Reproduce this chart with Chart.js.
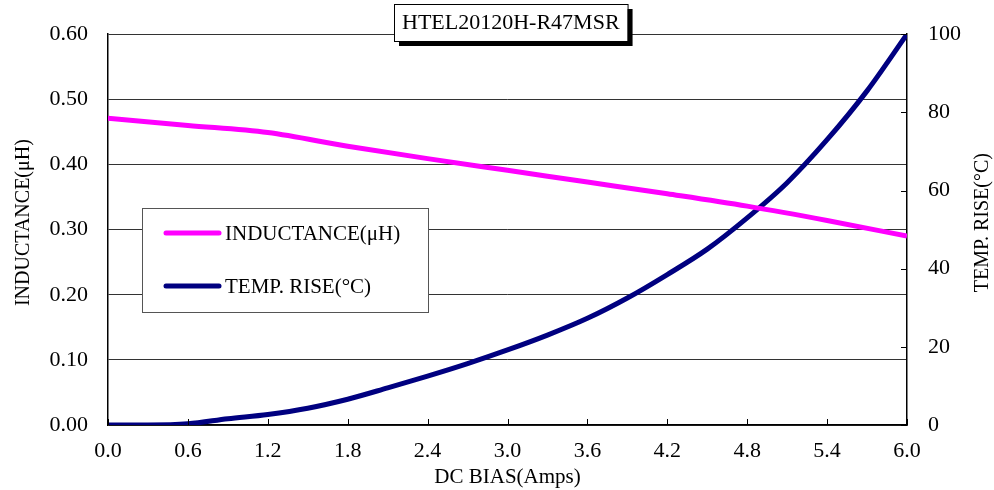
<!DOCTYPE html>
<html>
<head>
<meta charset="utf-8">
<script src="https://cdn.jsdelivr.net/npm/chart.js@4/dist/chart.umd.min.js"></script>
<style>
  html, body { margin: 0; padding: 0; background: #fff; }
  #wrap { width: 994px; height: 490px; }
</style>
</head>
<body>
<div id="wrap"><canvas id="lineChart"></canvas></div>
<script>
// data
const chartTitle = 'HTEL20120H-R47MSR';
const biasAmps = [0, 0.6, 1.2, 1.8, 2.4, 3.0, 3.6, 4.2, 4.8, 5.4, 6.0];
const inductance = [0.471, 0.460, 0.449, 0.428, 0.409, 0.391, 0.373, 0.355, 0.336, 0.314, 0.290];
const tempAmps = [0, 0.3, 0.6, 0.9, 1.2, 1.5, 1.8, 2.1, 2.4, 2.7, 3.0, 3.3, 3.6, 3.9, 4.2, 4.5, 4.8, 5.1, 5.4, 5.7, 6.0];
const tempRise = [0, 0, 0.3, 1.6, 2.7, 4.3, 6.6, 9.5, 12.5, 15.7, 19.2, 23.0, 27.3, 32.5, 38.5, 45.0, 53.0, 62.0, 73.0, 85.5, 100];
const labels = ['INDUCTANCE(\u03bcH)', 'TEMP. RISE(\u00b0C)'];
const axisTitles = ['DC BIAS(Amps)', 'INDUCTANCE(\u03bcH)', 'TEMP. RISE(\u00b0C)'];
const colors = ['#ff00ff', '#000080'];

const FONT = '"Liberation Serif", "Times New Roman", serif';

function pts(xs, ys) {
    return xs.map((x, i) => ({x: x, y: ys[i]}));
}

// title box + legend box + inward tick marks + side titles
const decorations = {
    id: 'decorations',
    afterDatasetsDraw(chart) {
        const ctx = chart.ctx;
        const area = chart.chartArea;
        const xs = chart.scales.x;
        const y1 = chart.scales.y1;
        ctx.save();
        ctx.strokeStyle = '#000';
        ctx.lineWidth = 1;
        // x ticks pointing up
        xs.ticks.forEach(t => {
            const px = Math.round(xs.getPixelForValue(t.value)) + 0.5;
            ctx.beginPath();
            ctx.moveTo(px, area.bottom);
            ctx.lineTo(px, area.bottom - 6);
            ctx.stroke();
        });
        // right axis ticks pointing left
        y1.ticks.forEach(t => {
            const py = Math.round(y1.getPixelForValue(t.value)) + 0.5;
            ctx.beginPath();
            ctx.moveTo(area.right, py);
            ctx.lineTo(area.right - 6, py);
            ctx.stroke();
        });

        // side axis titles, both reading bottom to top
        ctx.fillStyle = '#000';
        ctx.font = '20px ' + FONT;
        ctx.textAlign = 'center';
        ctx.textBaseline = 'middle';
        const midY = (area.top + area.bottom) / 2 - 7;
        [[24, midY, axisTitles[1]], [983, midY, axisTitles[2]]].forEach(a => {
            ctx.save();
            ctx.translate(a[0], a[1]);
            ctx.rotate(-Math.PI / 2);
            ctx.fillText(a[2], 0, 0);
            ctx.restore();
        });

        // legend box
        const lx = 142, ly = 208, lw = 286, lh = 104;
        ctx.fillStyle = '#fff';
        ctx.fillRect(lx, ly, lw, lh);
        ctx.strokeStyle = '#555';
        ctx.lineWidth = 1;
        ctx.strokeRect(lx + 0.5, ly + 0.5, lw, lh);
        ctx.font = '21px ' + FONT;
        ctx.textAlign = 'left';
        [233, 286].forEach((yy, i) => {
            ctx.strokeStyle = colors[i];
            ctx.lineWidth = 5;
            ctx.lineCap = 'round';
            ctx.beginPath();
            ctx.moveTo(166, yy);
            ctx.lineTo(219, yy);
            ctx.stroke();
            ctx.fillStyle = '#000';
            ctx.fillText(labels[i], 225, yy + 1);
        });

        // title box with shadow
        ctx.font = '22px ' + FONT;
        const tw = ctx.measureText(chartTitle).width;
        const bw = tw + 16, bh = 37;
        const bx = Math.round(511 - bw / 2), by = 4;
        ctx.fillStyle = '#000';
        ctx.fillRect(bx + 5, by + 5, bw, bh);
        ctx.fillStyle = '#fff';
        ctx.fillRect(bx, by, bw, bh);
        ctx.strokeStyle = '#000';
        ctx.lineWidth = 1;
        ctx.strokeRect(bx + 0.5, by + 0.5, bw, bh);
        ctx.fillStyle = '#000';
        ctx.textAlign = 'center';
        ctx.fillText(chartTitle, bx + bw / 2, by + bh / 2 + 1);
        ctx.restore();
    }
};

const data = {
    datasets: [{
        label: labels[0],
        data: pts(biasAmps, inductance),
        borderColor: colors[0],
        backgroundColor: colors[0],
        borderWidth: 5,
        pointRadius: 0,
        cubicInterpolationMode: 'monotone',
        yAxisID: 'y'
    }, {
        label: labels[1],
        data: pts(tempAmps, tempRise),
        borderColor: colors[1],
        backgroundColor: colors[1],
        borderWidth: 5,
        pointRadius: 0,
        cubicInterpolationMode: 'monotone',
        yAxisID: 'y1'
    }]
};

const config = {
    type: 'line',
    data: data,
    options: {
        responsive: true,
        maintainAspectRatio: false,
        animation: false,
        layout: { padding: { top: 33, left: 0, right: 0, bottom: 0 } },
        plugins: {
            legend: { display: false },
            tooltip: { enabled: false }
        },
        scales: {
            x: {
                type: 'linear',
                min: 0, max: 6,
                afterFit: s => { s.height = 65; },
                afterBuildTicks: s => { s.ticks = biasAmps.map(v => ({value: v})); },
                ticks: {
                    color: '#000', font: { family: FONT, size: 22 }, padding: 13,
                    maxRotation: 0, autoSkip: false,
                    callback: v => v.toFixed(1)
                },
                grid: { display: false, drawTicks: false },
                border: { display: true, color: '#000', width: 1.5 },
                title: {
                    display: true, text: axisTitles[0], color: '#000',
                    font: { family: FONT, size: 21 }, padding: { top: 2, bottom: 0 }
                }
            },
            y: {
                position: 'left',
                min: 0, max: 0.6,
                afterFit: s => { s.width = 108; },
                ticks: {
                    stepSize: 0.1, color: '#000', font: { family: FONT, size: 22 }, padding: 20,
                    callback: v => v.toFixed(2)
                },
                grid: { color: '#333', lineWidth: 1, drawTicks: false },
                border: { display: true, color: '#000', width: 1.5 }
            },
            y1: {
                position: 'right',
                min: 0, max: 100,
                afterFit: s => { s.width = 87; },
                ticks: {
                    stepSize: 20, color: '#000', font: { family: FONT, size: 22 }, padding: 21
                },
                grid: { display: false, drawTicks: false },
                border: { display: true, color: '#000', width: 1.5 }
            }
        }
    },
    plugins: [decorations]
};

var myChart = new Chart(document.getElementById('lineChart'), config);
</script>
</body>
</html>
